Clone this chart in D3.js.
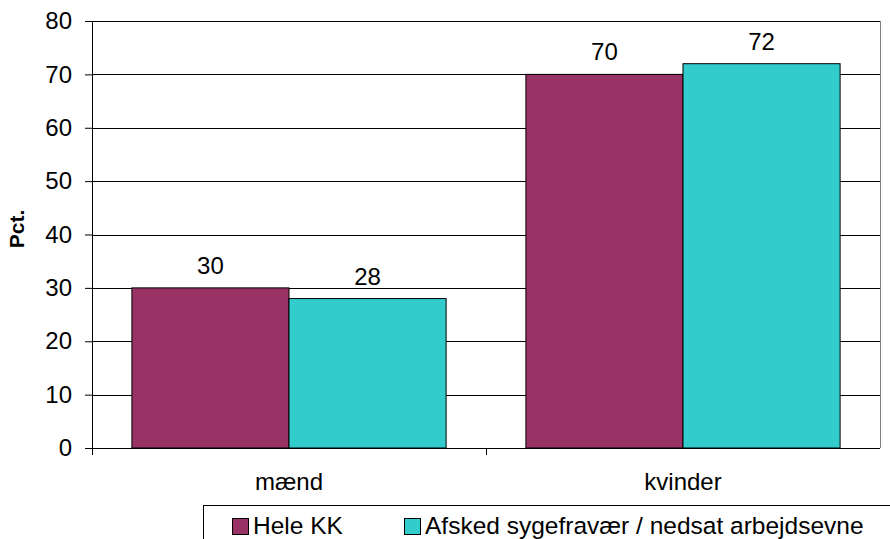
<!DOCTYPE html>
<html>
<head>
<meta charset="utf-8">
<script src="https://cdn.jsdelivr.net/npm/d3@7"></script>
<style>
  body { margin: 0; background: #fff; }
  text { font-family: "Liberation Sans", Arial, sans-serif; }
</style>
</head>
<body>
<div id="chart"></div>
<script>
var categories = ["mænd", "kvinder"];
var seriesNames = ["Hele KK", "Afsked sygefravær / nedsat arbejdsevne"];
var heleKK = [30, 70];
var afsked = [28, 72];
var yTicks = [0, 10, 20, 30, 40, 50, 60, 70, 80];
var colors = ["#993366", "#33CCCC"];

var w = 890, h = 539;
var mLeft = 92, mRight = 880, mTop = 21, mBottom = 448;
var fs = 24;

var svg = d3.select("#chart").append("svg")
  .attr("width", w).attr("height", h);

var x = d3.scaleBand().domain(categories).range([mLeft, mRight]);
var sub = d3.scaleBand().domain(seriesNames).range([0, x.bandwidth()]).paddingOuter(0.254).paddingInner(0);
var y = d3.scaleLinear().domain([0, 80]).range([mBottom, mTop]);

// gridlines
svg.append("g").selectAll("line").data(yTicks.slice(1)).enter().append("line")
  .attr("x1", mLeft).attr("x2", mRight)
  .attr("y1", function(d){ return Math.round(y(d)) + 0.5; })
  .attr("y2", function(d){ return Math.round(y(d)) + 0.5; })
  .attr("stroke", "#000").attr("stroke-width", 1);

// right border
svg.append("line").attr("x1", mRight + 0.5).attr("x2", mRight + 0.5).attr("y1", mTop).attr("y2", mBottom)
  .attr("stroke", "#808080");

var rows = categories.map(function(c, i){ return {cat: c, vals: [heleKK[i], afsked[i]]}; });

var groups = svg.selectAll(".grp").data(rows).enter().append("g")
  .attr("transform", function(d){ return "translate(" + x(d.cat) + ",0)"; });

groups.selectAll("rect").data(function(d){ return d.vals.map(function(v, j){ return {s: seriesNames[j], v: v, j: j}; }); })
  .enter().append("rect")
  .attr("x", function(d){ return sub(d.s); })
  .attr("y", function(d){ return y(d.v); })
  .attr("width", sub.bandwidth())
  .attr("height", function(d){ return y(0) - y(d.v); })
  .attr("fill", function(d){ return colors[d.j]; })
  .attr("stroke", "#000").attr("stroke-width", 1);

groups.selectAll(".lbl").data(function(d){ return d.vals.map(function(v, j){ return {s: seriesNames[j], v: v}; }); })
  .enter().append("text")
  .attr("x", function(d){ return sub(d.s) + sub.bandwidth() / 2; })
  .attr("y", function(d){ return y(d.v) - 14; })
  .attr("text-anchor", "middle")
  .attr("font-size", fs)
  .text(function(d){ return d.v; });

// y axis
var yAxis = svg.append("g").attr("transform", "translate(" + mLeft + ",0)")
  .call(d3.axisLeft(y).tickValues(yTicks).tickSize(7).tickPadding(13));
yAxis.select(".domain").attr("stroke", "#000").attr("d", "M0.5," + mTop + "V" + mBottom);
yAxis.selectAll("text").attr("font-size", fs).attr("fill", "#000")
  .attr("font-family", "Liberation Sans, Arial, sans-serif");

// x axis
var xAxis = svg.append("g").attr("transform", "translate(0," + mBottom + ")")
  .call(d3.axisBottom(x).tickSize(0).tickPadding(25));
xAxis.select(".domain").attr("stroke", "#000").attr("d", "M" + mLeft + ",0.5H" + mRight);
xAxis.selectAll("text").attr("font-size", fs).attr("fill", "#000")
  .attr("font-family", "Liberation Sans, Arial, sans-serif");
var bounds = [mLeft].concat(categories.slice(1).map(function(c){ return x(c); }));
xAxis.selectAll(".sep").data(bounds).enter().append("line")
  .attr("x1", function(d){ return d + 0.5; }).attr("x2", function(d){ return d + 0.5; })
  .attr("y1", 0).attr("y2", 7).attr("stroke", "#000");

// y title
svg.append("text")
  .attr("transform", "translate(24,229) rotate(-90)")
  .attr("text-anchor", "middle")
  .attr("font-size", 21).attr("font-weight", "bold")
  .text("Pct.");

// legend
var lg = svg.append("g");
lg.append("rect").attr("x", 203.5).attr("y", 505.5).attr("width", 700).attr("height", 60)
  .attr("fill", "#fff").attr("stroke", "#000");
var legX = [232, 404];
seriesNames.forEach(function(n, i){
  lg.append("rect").attr("x", legX[i] + 0.5).attr("y", 518.5).attr("width", 16).attr("height", 16)
    .attr("fill", colors[i]).attr("stroke", "#000");
  lg.append("text").attr("x", legX[i] + 21).attr("y", 534).attr("font-size", 24.5).text(n);
});
</script>
</body>
</html>
